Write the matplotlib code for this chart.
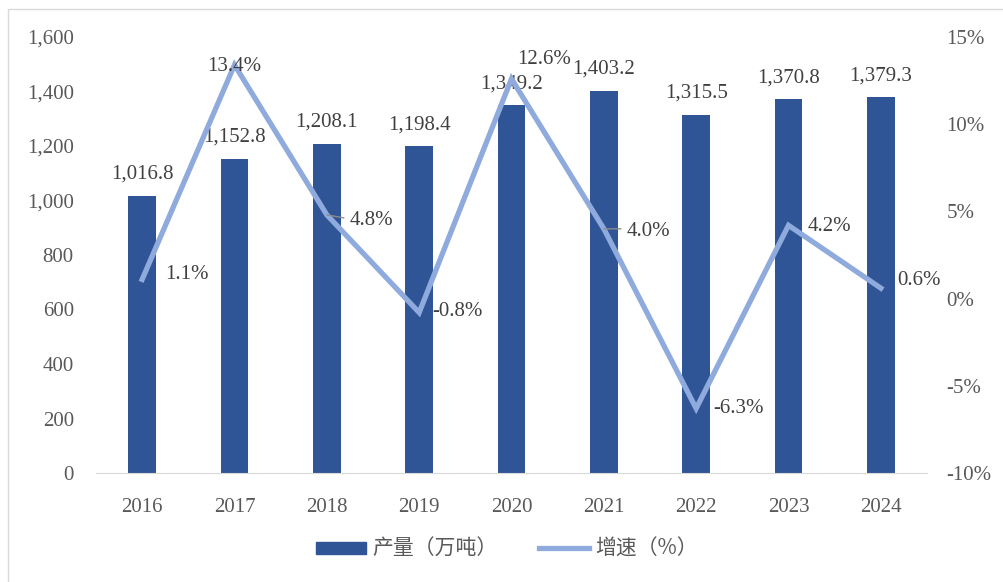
import matplotlib
matplotlib.use("Agg")
import matplotlib.pyplot as plt
from matplotlib.patches import Rectangle
from matplotlib.lines import Line2D
from matplotlib.ticker import FuncFormatter

years = ["2016", "2017", "2018", "2019", "2020", "2021", "2022", "2023", "2024"]
output = [1016.8, 1152.8, 1208.1, 1198.4, 1349.2, 1403.2, 1315.5, 1370.8, 1379.3]
growth = [1.1, 13.4, 4.8, -0.8, 12.6, 4.0, -6.3, 4.2, 0.6]
bar_label = "产量（万吨）"
line_label = "增速（%）"

# label offsets (pixels) for growth labels: (dx, dy, ha, leader)
g_offsets = [(23, 5, "left", False), (0, -2, "center", False), (23, -6, "left", True),
             (13, 1, "left", False), (6, 19, "left", False), (23, -3, "left", True),
             (17, 0, "left", False), (19, -1, "left", False), (16, 8, "left", False)]

BAR = "#2F5597"
LINE = "#8FAADC"
TXT = "#404040"
TICK = "#595959"

W, H = 1004, 582
fig = plt.figure(figsize=(W / 100, H / 100), dpi=100)
ax = fig.add_axes([96 / W, (H - 473) / H, (927 - 96) / W, (473 - 37) / H])
ax2 = ax.twinx()

x = list(range(len(years)))
ax.bar(x, output, width=0.30, color=BAR, zorder=2)
ax.set_xlim(-0.5, len(years) - 0.5)
ax.set_ylim(0, 1600)
ax.set_yticks(range(0, 1601, 200))
ax.yaxis.set_major_formatter(FuncFormatter(lambda v, p: f"{int(v):,}"))
ax.set_xticks(x)
ax.set_xticklabels(years)

serif = "Liberation Serif"
for a in (ax, ax2):
    for s in a.spines.values():
        s.set_visible(False)
    a.tick_params(length=0, labelsize=15, labelcolor=TICK)
    for lab in a.get_xticklabels() + a.get_yticklabels():
        lab.set_family(serif)
ax.spines["bottom"].set_visible(True)
ax.spines["bottom"].set_color("#d9d9d9")
ax.tick_params(axis="y", pad=16)
ax.tick_params(axis="x", pad=18)

ax2.plot(x, growth, color=LINE, lw=3.8, zorder=3, solid_joinstyle="miter")
ax2.set_ylim(-10, 15)
ax2.set_yticks(range(-10, 16, 5))
ax2.yaxis.set_major_formatter(FuncFormatter(lambda v, p: f"{int(v)}%"))
ax2.tick_params(axis="y", pad=14, length=0, labelsize=15, labelcolor=TICK)
for lab in ax2.get_yticklabels():
    lab.set_family(serif)

for xi, v in zip(x, output):
    ax.annotate(f"{v:,.1f}", (xi, v), xytext=(0, 12), textcoords="offset pixels",
                ha="center", va="bottom", fontsize=15, family=serif, color=TXT, zorder=4)

for xi, v, (dx, dy, ha, leader) in zip(x, growth, g_offsets):
    ax2.annotate(f"{v:.1f}%", (xi, v), xytext=(dx, dy), textcoords="offset pixels",
                 ha=ha, va="center", fontsize=15, family=serif, color=TXT, zorder=5)
    if leader:
        ax2.annotate("", (xi, v), xytext=(dx - 6, dy + 3), textcoords="offset pixels",
                     arrowprops=dict(arrowstyle="-", color="#8c8c8c", lw=1,
                                     shrinkA=0, shrinkB=0), zorder=5)

handles = [Rectangle((0, 0), 1, 1, color=BAR), Line2D([0], [0], color=LINE, lw=3.8)]
leg = fig.legend(handles, [bar_label, line_label], loc="center", bbox_to_anchor=(0.505, (H - 549) / H),
                 ncol=2, frameon=False, handlelength=2.4, handleheight=0.5, columnspacing=2.0,
                 handletextpad=0.3, prop={"family": ["Noto Sans CJK SC", "DejaVu Sans"], "size": 15})
for t in leg.get_texts():
    t.set_color(TICK)

fig.add_artist(Rectangle((8 / W, -0.1), 1.2, (H - 9) / H + 0.1, transform=fig.transFigure,
                         fill=False, ec="#d9d9d9", lw=1))

fig.savefig("out.png", dpi=100)
